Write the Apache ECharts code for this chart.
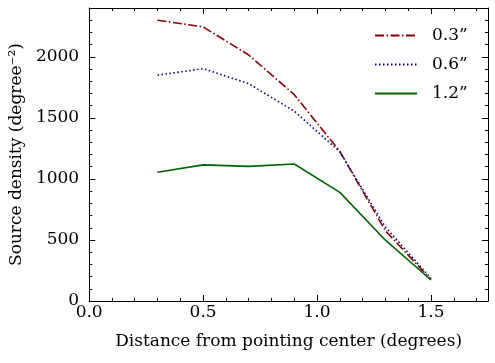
<!DOCTYPE html>
<html>
<head>
<meta charset="utf-8">
<script src="https://cdn.jsdelivr.net/npm/echarts@6/dist/echarts.min.js"></script>
<style>
  html, body { margin: 0; padding: 0; background: #fff; }
  #chart { width: 495px; height: 363px; }
</style>
</head>
<body>
<div id="chart"></div>
<script>
// distance from pointing center (degrees)
const distances = [0.3, 0.5, 0.7, 0.9, 1.1, 1.3, 1.5]
// source density per seeing value (degree^-2)
const density03 = [2300, 2245, 2015, 1690, 1225, 575, 175]
const density06 = [1850, 1903, 1780, 1555, 1222, 605, 185]
const density12 = [1055, 1115, 1103, 1122, 890, 498, 172]
const seriesNames = ['0.3”', '0.6”', '1.2”']

const font = 'DejaVu Serif'
const fs = 17

const pairs = (ys) => distances.map((x, i) => [x, ys[i]])

// one axis draws ticks only; used for minor ticks and top/right mirrors
function tickAxis(pos, interval, len, max, showLine) {
  return {
    type: 'value', position: pos, min: 0, max: max, interval: interval,
    axisLine: { show: showLine, onZero: false, lineStyle: { color: '#000', width: 1 } },
    axisTick: { show: true, inside: true, length: len, lineStyle: { color: '#000', width: 1 } },
    axisLabel: { show: false },
    splitLine: { show: false }
  }
}

const myChart = echarts.init(document.getElementById('chart'))
myChart.setOption({
  animation: false,
  grid: { left: 87, right: 7, top: 8, bottom: 62, containLabel: false },
  legend: {
    left: 369,
    top: 22,
    orient: 'vertical',
    itemWidth: 42,
    itemHeight: 14,
    itemGap: 12,
    align: 'left',
    itemStyle: { opacity: 0 },
    textStyle: { fontFamily: font, fontSize: fs, color: '#000', padding: [0, 0, 0, 10] },
    data: seriesNames
  },
  xAxis: [
    {
      type: 'value', position: 'bottom', min: 0, max: 1.75, interval: 0.5,
      name: 'Distance from pointing center (degrees)',
      nameLocation: 'middle', nameGap: 32,
      nameTextStyle: { fontFamily: font, fontSize: fs, color: '#000' },
      axisLine: { show: true, onZero: false, lineStyle: { color: '#000', width: 1 } },
      axisTick: { show: true, inside: true, length: 6, lineStyle: { color: '#000', width: 1 } },
      axisLabel: {
        fontFamily: font, fontSize: fs, color: '#000', margin: 3, showMaxLabel: false,
        formatter: (v) => v.toFixed(1)
      },
      splitLine: { show: false }
    },
    tickAxis('bottom', 0.1, 3, 1.75, false),
    tickAxis('top', 0.5, 6, 1.75, true),
    tickAxis('top', 0.1, 3, 1.75, false)
  ],
  yAxis: [
    {
      type: 'value', position: 'left', min: 0, max: 2400, interval: 500,
      name: 'Source density (degree⁻²)',
      nameLocation: 'middle', nameGap: 54, nameRotate: 90,
      nameTextStyle: { fontFamily: font, fontSize: fs, color: '#000' },
      axisLine: { show: true, onZero: false, lineStyle: { color: '#000', width: 1 } },
      axisTick: { show: true, inside: true, length: 6, lineStyle: { color: '#000', width: 1 } },
      axisLabel: {
        fontFamily: font, fontSize: fs, color: '#000', margin: 10, showMaxLabel: false,
        formatter: (v) => String(v)
      },
      splitLine: { show: false }
    },
    tickAxis('left', 100, 3, 2400, false),
    tickAxis('right', 500, 6, 2400, true),
    tickAxis('right', 100, 3, 2400, false)
  ],
  series: [
    {
      name: seriesNames[0], type: 'line', showSymbol: false, symbol: 'none',
      data: pairs(density03),
      lineStyle: { color: '#8b0000', width: 1.6, type: [9, 2.5, 1.5, 2.5] },
      itemStyle: { color: '#8b0000' }
    },
    {
      name: seriesNames[1], type: 'line', showSymbol: false, symbol: 'none',
      data: pairs(density06),
      lineStyle: { color: '#00008b', width: 1.6, type: [1.5, 2.5] },
      itemStyle: { color: '#00008b' }
    },
    {
      name: seriesNames[2], type: 'line', showSymbol: false, symbol: 'none',
      data: pairs(density12),
      lineStyle: { color: '#006400', width: 1.6 },
      itemStyle: { color: '#006400' }
    }
  ]
})
</script>
</body>
</html>
